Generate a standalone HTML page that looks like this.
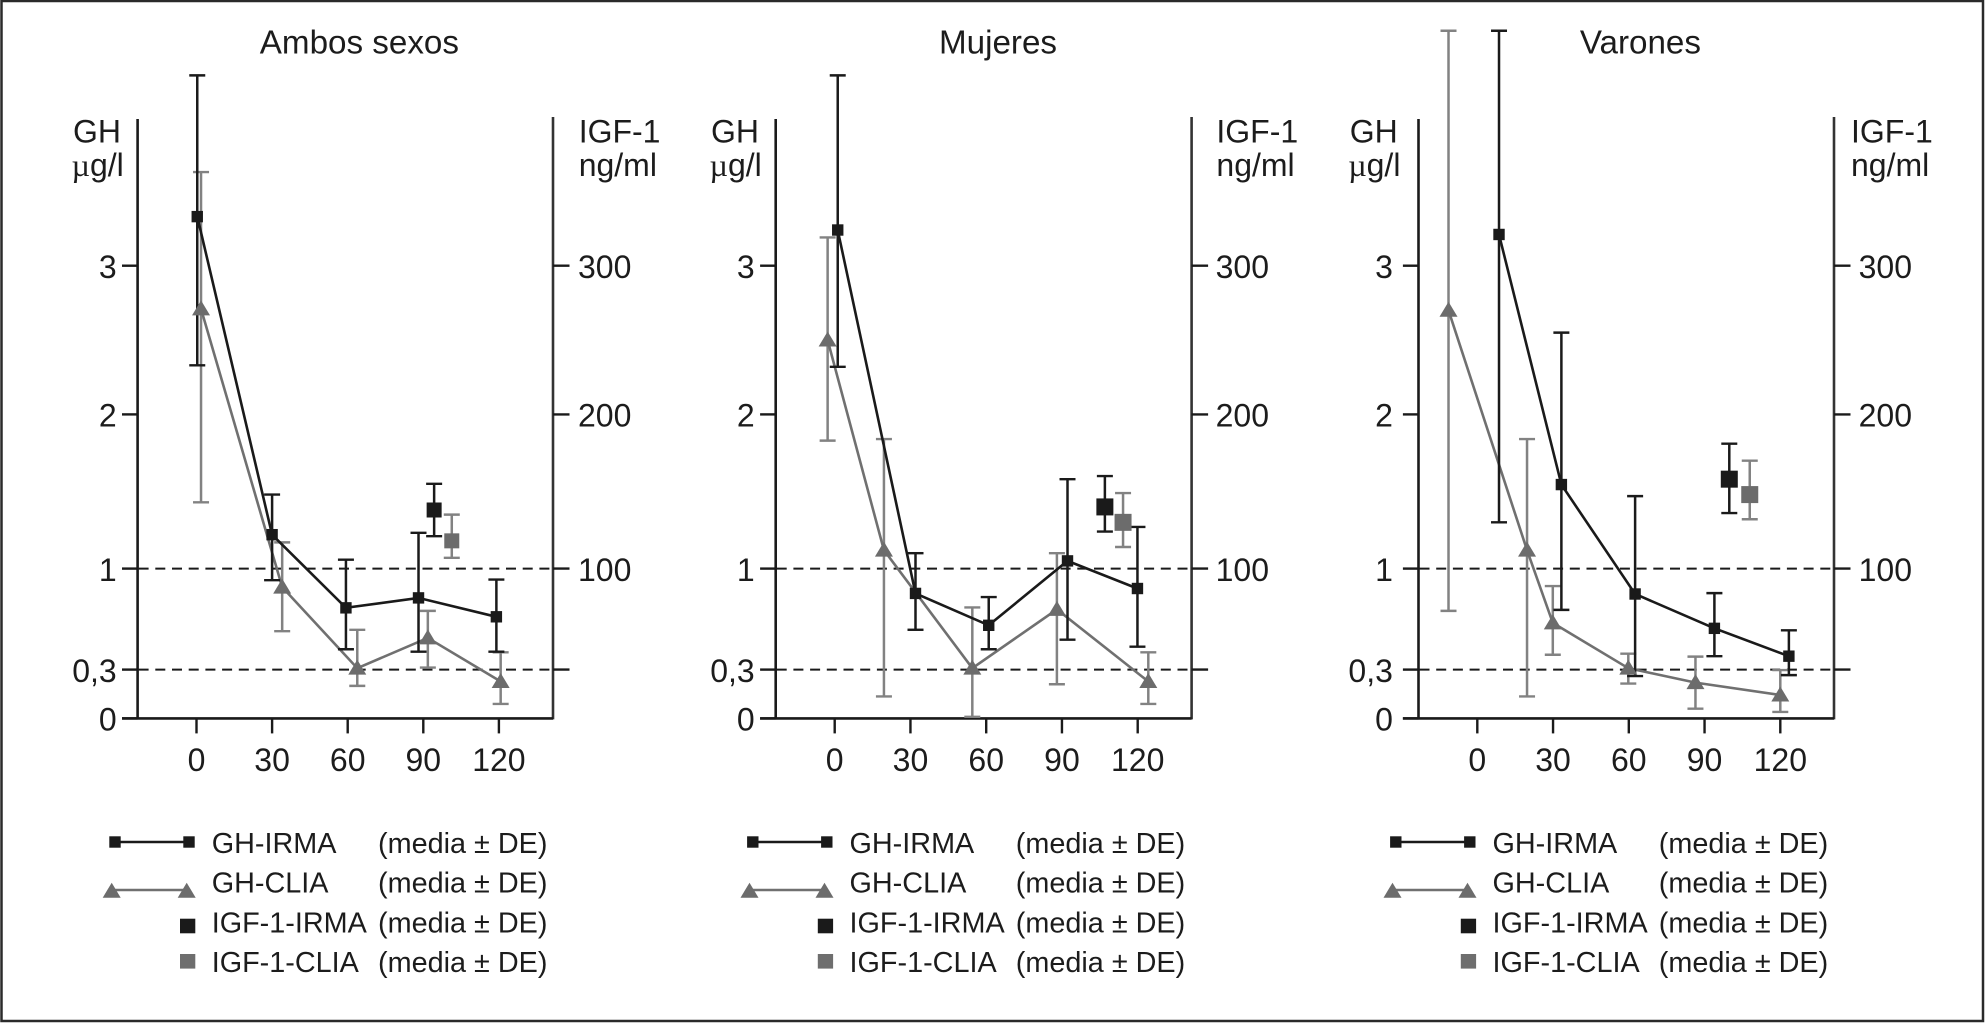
<!DOCTYPE html>
<html lang="es">
<head>
<meta charset="utf-8">
<title>GH e IGF-1: Ambos sexos, Mujeres, Varones</title>
<style>
html,body{margin:0;padding:0;background:#fff;}
svg{display:block;}
text{font-family:"Liberation Sans",sans-serif;fill:#1c1c1c;}
.title{font-size:33.2px;text-anchor:middle;}
.unit{font-size:32px;}
.tick{font-size:32px;}
.leg{font-size:28.8px;}
</style>
</head>
<body>
<svg id="chart" xmlns="http://www.w3.org/2000/svg" width="1985" height="1023" viewBox="0 0 1985 1023">
<rect x="0" y="0" width="1985" height="1023" fill="#ffffff"/>
<rect x="1.5" y="1" width="1981.5" height="1020" fill="none" stroke="#2a2a2a" stroke-width="2.5"/>

<text class="title" x="359.4" y="53.7">Ambos sexos</text>
<text class="title" x="998" y="53.7">Mujeres</text>
<text class="title" x="1640.4" y="53.7">Varones</text>

<text class="unit" x="73" y="142.7">GH</text>
<text class="unit" x="71.5" y="176"><tspan style="font-family:'Liberation Serif',serif">µ</tspan>g/l</text>
<text class="unit" x="578.7" y="142.7">IGF-1</text>
<text class="unit" x="578.7" y="176">ng/ml</text>

<text class="unit" x="711" y="142.7">GH</text>
<text class="unit" x="709.5" y="176"><tspan style="font-family:'Liberation Serif',serif">µ</tspan>g/l</text>
<text class="unit" x="1216.4" y="142.7">IGF-1</text>
<text class="unit" x="1216.4" y="176">ng/ml</text>

<text class="unit" x="1349.7" y="142.7">GH</text>
<text class="unit" x="1348.2" y="176"><tspan style="font-family:'Liberation Serif',serif">µ</tspan>g/l</text>
<text class="unit" x="1851" y="142.7">IGF-1</text>
<text class="unit" x="1851" y="176">ng/ml</text>

<g>
  <g>
    <line x1="115" y1="842" x2="189" y2="842" stroke="#1a1a1a" stroke-width="2.4"/>
    <rect x="109.3" y="836.3" width="11.4" height="11.4" fill="#1a1a1a"/>
    <rect x="183.3" y="836.3" width="11.4" height="11.4" fill="#1a1a1a"/>
    <text class="leg" x="211.7" y="853">GH-IRMA</text><text class="leg" x="378" y="853">(media ± DE)</text>
  </g>
  <g>
    <line x1="111.7" y1="890" x2="186.7" y2="890" stroke="#707070" stroke-width="2.4"/>
    <polygon points="111.7,882.7 102.7,897.7 120.7,897.7" fill="#6c6c6c"/>
    <polygon points="186.7,882.7 177.7,897.7 195.7,897.7" fill="#6c6c6c"/>
    <text class="leg" x="211.7" y="892.7">GH-CLIA</text><text class="leg" x="378" y="892.7">(media ± DE)</text>
  </g>
  <g>
    <rect x="180" y="918.7" width="15.3" height="14.6" fill="#1a1a1a"/>
    <text class="leg" x="211.7" y="932.7">IGF-1-IRMA</text><text class="leg" x="378" y="932.7">(media ± DE)</text>
  </g>
  <g>
    <rect x="180" y="954" width="15.3" height="14.6" fill="#6e6e6e"/>
    <text class="leg" x="211.7" y="972">IGF-1-CLIA</text><text class="leg" x="378" y="972">(media ± DE)</text>
  </g>
</g>
<g transform="translate(637.8 0)">
  <g>
    <line x1="115" y1="842" x2="189" y2="842" stroke="#1a1a1a" stroke-width="2.4"/>
    <rect x="109.3" y="836.3" width="11.4" height="11.4" fill="#1a1a1a"/>
    <rect x="183.3" y="836.3" width="11.4" height="11.4" fill="#1a1a1a"/>
    <text class="leg" x="211.7" y="853">GH-IRMA</text><text class="leg" x="378" y="853">(media ± DE)</text>
  </g>
  <g>
    <line x1="111.7" y1="890" x2="186.7" y2="890" stroke="#707070" stroke-width="2.4"/>
    <polygon points="111.7,882.7 102.7,897.7 120.7,897.7" fill="#6c6c6c"/>
    <polygon points="186.7,882.7 177.7,897.7 195.7,897.7" fill="#6c6c6c"/>
    <text class="leg" x="211.7" y="892.7">GH-CLIA</text><text class="leg" x="378" y="892.7">(media ± DE)</text>
  </g>
  <g>
    <rect x="180" y="918.7" width="15.3" height="14.6" fill="#1a1a1a"/>
    <text class="leg" x="211.7" y="932.7">IGF-1-IRMA</text><text class="leg" x="378" y="932.7">(media ± DE)</text>
  </g>
  <g>
    <rect x="180" y="954" width="15.3" height="14.6" fill="#6e6e6e"/>
    <text class="leg" x="211.7" y="972">IGF-1-CLIA</text><text class="leg" x="378" y="972">(media ± DE)</text>
  </g>
</g>
<g transform="translate(1280.8 0)">
  <g>
    <line x1="115" y1="842" x2="189" y2="842" stroke="#1a1a1a" stroke-width="2.4"/>
    <rect x="109.3" y="836.3" width="11.4" height="11.4" fill="#1a1a1a"/>
    <rect x="183.3" y="836.3" width="11.4" height="11.4" fill="#1a1a1a"/>
    <text class="leg" x="211.7" y="853">GH-IRMA</text><text class="leg" x="378" y="853">(media ± DE)</text>
  </g>
  <g>
    <line x1="111.7" y1="890" x2="186.7" y2="890" stroke="#707070" stroke-width="2.4"/>
    <polygon points="111.7,882.7 102.7,897.7 120.7,897.7" fill="#6c6c6c"/>
    <polygon points="186.7,882.7 177.7,897.7 195.7,897.7" fill="#6c6c6c"/>
    <text class="leg" x="211.7" y="892.7">GH-CLIA</text><text class="leg" x="378" y="892.7">(media ± DE)</text>
  </g>
  <g>
    <rect x="180" y="918.7" width="15.3" height="14.6" fill="#1a1a1a"/>
    <text class="leg" x="211.7" y="932.7">IGF-1-IRMA</text><text class="leg" x="378" y="932.7">(media ± DE)</text>
  </g>
  <g>
    <rect x="180" y="954" width="15.3" height="14.6" fill="#6e6e6e"/>
    <text class="leg" x="211.7" y="972">IGF-1-CLIA</text><text class="leg" x="378" y="972">(media ± DE)</text>
  </g>
</g>
</svg>

<script>
// Axis tick values and labels
const xTickValues = [0, 30, 60, 90, 120];
const xTickLabels = ['0', '30', '60', '90', '120'];
const gridValues = [0.3, 1];
const leftTickValues = [0, 0.3, 1, 2, 3];
const leftTickLabels = ['0', '0,3', '1', '2', '3'];
const rightTickValues = [30, 100, 200, 300];
const rightTickLabels = ['', '100', '200', '300'];

// Ambos sexos
const ambosIrmaTime = [0.3, 30, 59.3, 88.1, 119];
const ambosIrmaMean = [3.33, 1.22, 0.728, 0.797, 0.666];
const ambosIrmaLow = [2.33, 0.92, 0.441, 0.424, 0.424];
const ambosIrmaHigh = [4.28, 1.48, 1.058, 1.232, 0.924];
const ambosCliaTime = [1.8, 34, 63.8, 91.8, 120.7];
const ambosCliaMean = [2.71, 0.872, 0.31, 0.52, 0.227];
const ambosCliaLow = [1.43, 0.566, 0.2, 0.314, 0.089];
const ambosCliaHigh = [3.63, 1.17, 0.576, 0.707, 0.42];

// Mujeres
const mujeresIrmaTime = [1.2, 32, 61, 92.2, 119.9];
const mujeresIrmaMean = [3.24, 0.828, 0.607, 1.05, 0.862];
const mujeresIrmaLow = [2.32, 0.576, 0.441, 0.507, 0.459];
const mujeresIrmaHigh = [4.28, 1.1, 0.803, 1.58, 1.27];
const mujeresCliaTime = [-2.8, 19.5, 54.5, 88, 124.2];
const mujeresCliaMean = [2.5, 1.12, 0.31, 0.717, 0.227];
const mujeresCliaLow = [1.83, 0.135, 0.01, 0.21, 0.089];
const mujeresCliaHigh = [3.19, 1.84, 0.731, 1.1, 0.42];

// Varones
const varonesIrmaTime = [8.6, 33.3, 62.5, 93.9, 123.4];
const varonesIrmaMean = [3.21, 1.545, 0.824, 0.586, 0.393];
const varonesIrmaLow = [1.3, 0.714, 0.26, 0.393, 0.266];
const varonesIrmaHigh = [4.58, 2.55, 1.47, 0.83, 0.572];
const varonesCliaTime = [-11.4, 19.7, 29.9, 59.8, 86.4, 120];
const varonesCliaMean = [2.7, 1.12, 0.624, 0.31, 0.22, 0.144];
const varonesCliaLow = [0.707, 0.135, 0.403, 0.214, 0.06, 0.04];
const varonesCliaHigh = [4.58, 1.84, 0.879, 0.41, 0.39, 0.297];

// IGF-1 (ng/ml), one value per panel: ambos, mujeres, varones
const igfIrmaTime = [94.3, 107, 99.8];
const igfIrmaMean = [138, 140, 158];
const igfIrmaLow = [121, 124, 136];
const igfIrmaHigh = [155, 160, 181];
const igfCliaTime = [101.3, 114.2, 107.9];
const igfCliaMean = [118, 130, 148];
const igfCliaLow = [107, 114, 132];
const igfCliaHigh = [135, 149, 170];

const panelKeys = ['ambos', 'mujeres', 'varones'];
const irmaTimes = [ambosIrmaTime, mujeresIrmaTime, varonesIrmaTime];
const irmaMeans = [ambosIrmaMean, mujeresIrmaMean, varonesIrmaMean];
const irmaLows = [ambosIrmaLow, mujeresIrmaLow, varonesIrmaLow];
const irmaHighs = [ambosIrmaHigh, mujeresIrmaHigh, varonesIrmaHigh];
const cliaTimes = [ambosCliaTime, mujeresCliaTime, varonesCliaTime];
const cliaMeans = [ambosCliaMean, mujeresCliaMean, varonesCliaMean];
const cliaLows = [ambosCliaLow, mujeresCliaLow, varonesCliaLow];
const cliaHighs = [ambosCliaHigh, mujeresCliaHigh, varonesCliaHigh];

// Panel geometry (not data)
const layouts = [
  {left: 137.6, right: 553, tick0: 196.5, ppm: 2.52, leftLabel: 116.7, rightLabel: 578, igfSize: 15},
  {left: 775.7, right: 1191.6, tick0: 834.7, ppm: 2.525, leftLabel: 754.7, rightLabel: 1215.6, igfSize: 17},
  {left: 1418.5, right: 1834, tick0: 1477.3, ppm: 2.525, leftLabel: 1392.9, rightLabel: 1858.6, igfSize: 17}
];
const scaleDomain = [0, 0.3, 1, 2, 3];
const scaleRange = [718.4, 669.6, 568.6, 414.4, 265.7];

const BLACK = '#1a1a1a', GRAY_LINE = '#707070', GRAY_ERR = '#828282', GRAY_MARK = '#6c6c6c';
const SVG_NS = 'http://www.w3.org/2000/svg';
const root = document.getElementById('chart');

// Piecewise-linear GH axis (the printed axis is not uniform)
function yScale(v) {
  let i = 0;
  while (i < scaleDomain.length - 2 && v > scaleDomain[i + 1]) i++;
  const f = (v - scaleDomain[i]) / (scaleDomain[i + 1] - scaleDomain[i]);
  return scaleRange[i] + f * (scaleRange[i + 1] - scaleRange[i]);
}
function yScaleIgf(v) { return yScale(v / 100); }
function xScale(layout, t) { return layout.tick0 + t * layout.ppm; }

function mk(tag, parent, attrs) {
  const el = document.createElementNS(SVG_NS, tag);
  for (const k in attrs) el.setAttribute(k, attrs[k]);
  parent.appendChild(el);
  return el;
}
function seg(parent, x1, y1, x2, y2, color, w) {
  return mk('line', parent, {x1: x1, y1: y1, x2: x2, y2: y2, stroke: color, 'stroke-width': w});
}

function errorBar(parent, cx, yLow, yHigh, color) {
  const stem = seg(parent, cx, yLow, cx, yHigh, color, 2.5);
  
  
  const capTop = seg(parent, cx - 8, yHigh, cx + 8, yHigh, color, 2.4);
  
  
  const capBottom = seg(parent, cx - 8, yLow, cx + 8, yLow, color, 2.4);
  
  
}

function drawAxes(i) {
  const L = layouts[i];
  const g = mk('g', root, {});
  
  

  gridValues.forEach(function (v) {
    const dash = seg(g, L.left + 1, yScale(v), L.right, yScale(v), '#1a1a1a', 2);
    dash.setAttribute('stroke-dasharray', '10 6.7');
    
    
  });

  const leftAxis = seg(g, L.left, 119, L.left, yScale(0) + 1, '#1a1a1a', 2.6);
  
  
  const rightAxis = seg(g, L.right, 117, L.right, yScale(0) + 1, '#333333', 2.6);
  
  
  const bottomAxis = seg(g, L.left - 15.6, yScale(0), L.right, yScale(0), '#1a1a1a', 2.6);
  
  

  leftTickValues.forEach(function (v, k) {
    const y = yScale(v);
    const tick = seg(g, L.left - 15.6, y, L.left, y, '#1a1a1a', 2.4);
    
    
    const label = mk('text', g, {x: L.leftLabel, y: y + 12.3, class: 'tick', 'text-anchor': 'end'});
    label.textContent = leftTickLabels[k];
    
    
  });

  rightTickValues.forEach(function (v, k) {
    const y = yScaleIgf(v);
    const tick = seg(g, L.right, y, L.right + 16.5, y, '#1a1a1a', 2.4);
    
    
    if (rightTickLabels[k]) {
      const label = mk('text', g, {x: L.rightLabel, y: y + 12.3, class: 'tick'});
      label.textContent = rightTickLabels[k];
      
      
    }
  });

  xTickValues.forEach(function (t, k) {
    const x = xScale(L, t);
    const tick = seg(g, x, yScale(0), x, yScale(0) + 15, '#1a1a1a', 2.4);
    
    
    const label = mk('text', g, {x: x, y: 771, class: 'tick', 'text-anchor': 'middle'});
    label.textContent = xTickLabels[k];
    
    
  });
}

function polyPoints(L, times, means) {
  return times.map(function (t, k) { return xScale(L, t).toFixed(1) + ',' + yScale(means[k]).toFixed(1); }).join(' ');
}

function drawSeries(i) {
  const L = layouts[i];
  const g = mk('g', root, {});
  
  

  // GH-CLIA
  cliaTimes[i].forEach(function (t, k) {
    errorBar(g, xScale(L, t), yScale(cliaLows[i][k]), yScale(cliaHighs[i][k]), GRAY_ERR);
  });
  const cliaLine = mk('polyline', g, {points: polyPoints(L, cliaTimes[i], cliaMeans[i]), fill: 'none', stroke: GRAY_LINE, 'stroke-width': 2.6});
  
  

  // GH-IRMA
  irmaTimes[i].forEach(function (t, k) {
    errorBar(g, xScale(L, t), yScale(irmaLows[i][k]), yScale(irmaHighs[i][k]), BLACK);
  });
  const irmaLine = mk('polyline', g, {points: polyPoints(L, irmaTimes[i], irmaMeans[i]), fill: 'none', stroke: BLACK, 'stroke-width': 2.6});
  
  

  cliaTimes[i].forEach(function (t, k) {
    const x = xScale(L, t), y = yScale(cliaMeans[i][k]);
    const tri = mk('polygon', g, {points: (x) + ',' + (y - 8.5) + ' ' + (x - 9) + ',' + (y + 6.5) + ' ' + (x + 9) + ',' + (y + 6.5), fill: GRAY_MARK});
    
    
  });
  irmaTimes[i].forEach(function (t, k) {
    const x = xScale(L, t), y = yScale(irmaMeans[i][k]);
    const sq = mk('rect', g, {x: x - 5.7, y: y - 5.7, width: 11.4, height: 11.4, fill: BLACK});
    
    
  });

  // IGF-1 (right axis)
  const half = L.igfSize / 2;
  const xI = xScale(L, igfIrmaTime[i]);
  errorBar(g, xI, yScaleIgf(igfIrmaLow[i]), yScaleIgf(igfIrmaHigh[i]), BLACK);
  const sqI = mk('rect', g, {x: xI - half, y: yScaleIgf(igfIrmaMean[i]) - half, width: L.igfSize, height: L.igfSize, fill: BLACK});
  
  

  const xC = xScale(L, igfCliaTime[i]);
  errorBar(g, xC, yScaleIgf(igfCliaLow[i]), yScaleIgf(igfCliaHigh[i]), GRAY_ERR);
  const sqC = mk('rect', g, {x: xC - half, y: yScaleIgf(igfCliaMean[i]) - half, width: L.igfSize, height: L.igfSize, fill: GRAY_MARK});
  
  
}

panelKeys.forEach(function (key, i) {
  drawAxes(i);
  drawSeries(i);
});
</script>
</body>
</html>
